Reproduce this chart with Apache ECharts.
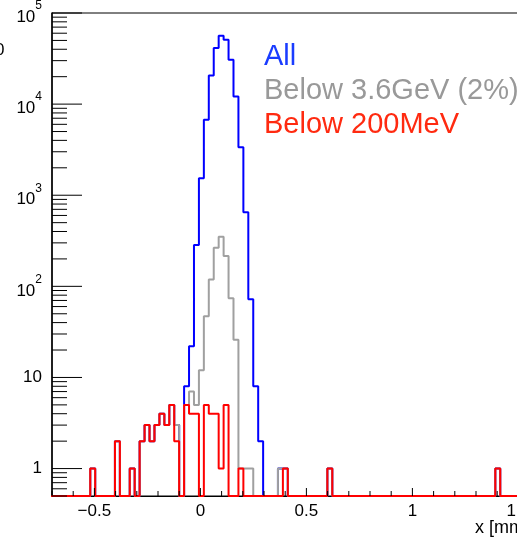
<!DOCTYPE html>
<html>
<head>
<meta charset="utf-8">
<script src="https://cdn.jsdelivr.net/npm/echarts@6/dist/echarts.min.js"></script>
<style>
  html, body { margin: 0; padding: 0; background: #ffffff; overflow: hidden; }
  #chart { width: 517px; height: 540px; }
</style>
</head>
<body>
<div id="chart"></div>
<script>
// Histogram binning (x in mm)
const binLow = -0.706;
const binWidth = 0.0233;

// Entries per bin, bin 0 starts at binLow
const countsAll = [
  0, 0, 0, 0, 0, 0, 0, 0, 1, 0,
  0, 0, 0, 2, 0, 0, 1, 0, 2, 3,
  2, 3, 4, 3, 5, 3, 0, 8, 22, 284,
  1540, 6720, 20600, 41200, 56300, 50900, 30700, 12100, 3370, 650,
  72, 8, 2, 0, 0, 0, 1, 1, 0, 0,
  0, 0, 0, 0, 0, 0, 1, 0, 0, 0,
  0, 0, 0, 0, 0, 0, 0, 0, 0, 0,
  0, 0, 0, 0, 0, 0, 0, 0, 0, 0,
  0, 0, 0, 0, 0, 0, 0, 0, 0, 0,
  1, 0, 0, 0, 0, 0, 0, 0, 0, 0
];
const countsBelow36GeV = [
  0, 0, 0, 0, 0, 0, 0, 0, 1, 0,
  0, 0, 0, 2, 0, 0, 1, 0, 2, 3,
  2, 3, 4, 3, 5, 3, 0, 5, 7, 5,
  12, 47, 119, 266, 351, 215, 74, 26, 1, 1,
  1, 0, 0, 0, 0, 0, 1, 1, 0, 0,
  0, 0, 0, 0, 0, 0, 1, 0, 0, 0,
  0, 0, 0, 0, 0, 0, 0, 0, 0, 0,
  0, 0, 0, 0, 0, 0, 0, 0, 0, 0,
  0, 0, 0, 0, 0, 0, 0, 0, 0, 0,
  1, 0, 0, 0, 0, 0, 0, 0, 0, 0
];
const countsBelow200MeV = [
  0, 0, 0, 0, 0, 0, 0, 0, 1, 0,
  0, 0, 0, 2, 0, 0, 1, 0, 2, 3,
  2, 3, 4, 3, 5, 2, 0, 5, 4, 4,
  0, 5, 4, 4, 1, 5, 0, 0, 1, 0,
  0, 0, 0, 0, 0, 0, 0, 1, 0, 0,
  0, 0, 0, 0, 0, 0, 1, 0, 0, 0,
  0, 0, 0, 0, 0, 0, 0, 0, 0, 0,
  0, 0, 0, 0, 0, 0, 0, 0, 0, 0,
  0, 0, 0, 0, 0, 0, 0, 0, 0, 0,
  1, 0, 0, 0, 0, 0, 0, 0, 0, 0
];

const seriesNames = ['All', 'Below 3.6GeV (2%)', 'Below 200MeV'];
const seriesColors = ['#0000ff', '#a0a0a0', '#ff0000'];
const legendColors = ['#1a3cff', '#999999', '#ff2a10'];

// Axis ranges and tick labels
const xMin = -0.7, xMax = 1.6;
const yMin = 0.5, yMax = 1e5;
const xLabelValues = [-0.5, 0, 0.5, 1, 1.5];
const xLabelTexts = ['\u22120.5', '0', '0.5', '1', '1.5'];
const yLabelValues = [1, 10, 100, 1000, 10000, 100000];

const FONT = '"Liberation Sans", Arial, Helvetica, sans-serif';

// Step outline: one point per bin low edge, plus the last bin's high edge.
// Empty bins sit on the frame bottom, as on a log-scale histogram.
function stepData(counts) {
  const pts = counts.map((c, i) => [binLow + i * binWidth, c > 0 ? c : yMin]);
  const last = counts[counts.length - 1];
  pts.push([binLow + counts.length * binWidth, last > 0 ? last : yMin]);
  return pts;
}

// Tick positions: x every 0.1 (major every 0.5), y at 1..9 x 10^n
const xTickValues = [];
for (let i = -7; i <= 16; i++) xTickValues.push(+(i / 10).toFixed(1));
const yTickValues = [];
for (let e = -1; e <= 4; e++) {
  for (let m = 1; m <= 9; m++) {
    const v = +(m * Math.pow(10, e)).toPrecision(6);
    if (v >= yMin && v <= yMax) yTickValues.push(v);
  }
}
yTickValues.push(yMax);

const isMultiple = (v, step) => Math.abs(v / step - Math.round(v / step)) < 1e-6;
const isPow10 = v => Math.abs(Math.log10(v) - Math.round(Math.log10(v))) < 1e-6;

const chart = echarts.init(document.getElementById('chart'), null, { renderer: 'canvas' });

const lineSeries = [countsAll, countsBelow36GeV, countsBelow200MeV].map((counts, i) => ({
  name: seriesNames[i],
  type: 'line',
  step: 'end',
  data: stepData(counts),
  symbol: 'none',
  clip: true,
  lineStyle: { color: seriesColors[i], width: 2 },
  z: 3 + i,
  silent: true
}));

const axisSeries = [
  // y ticks: long at decades, short in between, pointing into the frame
  {
    type: 'custom',
    data: yTickValues.map(v => [xMin, v]),
    encode: { x: 0, y: 1 },
    clip: false,
    z: 10,
    silent: true,
    renderItem: (params, api) => {
      const v = api.value(1);
      const p = api.coord([xMin, v]);
      const len = isPow10(v) ? 30 : 15;
      return {
        type: 'line',
        shape: { x1: p[0], y1: p[1], x2: p[0] + len, y2: p[1] },
        style: { stroke: '#000', lineWidth: 1 }
      };
    }
  },
  // x ticks
  {
    type: 'custom',
    data: xTickValues.map(v => [v, yMin]),
    encode: { x: 0, y: 1 },
    clip: false,
    z: 10,
    silent: true,
    renderItem: (params, api) => {
      const v = api.value(0);
      const p = api.coord([v, yMin]);
      const len = isMultiple(v, 0.5) ? 8 : 5;
      return {
        type: 'line',
        shape: { x1: p[0], y1: p[1], x2: p[0], y2: p[1] - len },
        style: { stroke: '#000', lineWidth: 1 }
      };
    }
  }
];

const legendTexts = seriesNames.map((name, i) => ({
  type: 'text',
  left: 264,
  top: 42 + i * 34,
  style: {
    text: name,
    fill: legendColors[i],
    font: '29px ' + FONT
  }
}));

chart.setOption({
  animation: false,
  backgroundColor: '#ffffff',
  grid: {
    left: 52,
    top: 13,
    width: (xMax - xMin) * 212,
    height: 483,
    containLabel: false,
    outerBoundsMode: 'none',
    show: true,
    borderColor: '#000',
    borderWidth: 1,
    backgroundColor: 'transparent'
  },
  xAxis: {
    type: 'value',
    min: xMin,
    max: xMax,
    interval: 0.1,
    axisLine: { show: true, onZero: false, lineStyle: { color: '#000', width: 1 } },
    axisTick: { show: false },
    splitLine: { show: false },
    axisLabel: { show: false }
  },
  yAxis: {
    type: 'log',
    logBase: 10,
    min: yMin,
    max: yMax,
    axisLine: { show: true, onZero: false, lineStyle: { color: '#000', width: 1.5 } },
    axisTick: { show: false },
    splitLine: { show: false },
    minorTick: { show: false },
    axisLabel: {
      margin: 10,
      color: '#000',
      fontSize: 17,
      fontFamily: FONT,
      formatter: v => {
        const hit = yLabelValues.find(t => Math.abs(Math.log10(t) - Math.log10(v)) < 1e-6);
        if (hit === undefined) return '';
        const e = Math.round(Math.log10(hit));
        if (e <= 1) return String(hit);
        return '{b|10}{s|' + e + '}';
      },
      rich: {
        b: { fontSize: 17, fontFamily: FONT, color: '#000', lineHeight: 26, verticalAlign: 'bottom' },
        s: { fontSize: 12, fontFamily: FONT, color: '#000', lineHeight: 12, verticalAlign: 'top' }
      }
    }
  },
  graphic: [
    ...legendTexts,
    {
      type: 'text',
      left: 475,
      top: 519,
      style: { text: 'x [mm]', fill: '#000', font: '18px ' + FONT }
    },
    {
      type: 'text',
      left: -5,
      top: 42,
      style: { text: '0', fill: '#000', font: '17px ' + FONT }
    }
  ],
  series: [...lineSeries, ...axisSeries]
});

// x tick labels, placed through the axis scale; each is left-anchored so the
// label box starts inside the visible canvas
const labelFont = '17px ' + FONT;
const measureCtx = document.createElement('canvas').getContext('2d');
measureCtx.font = labelFont;
const xLabelGraphics = xLabelValues.map((v, i) => {
  const p = chart.convertToPixel({ xAxisIndex: 0, yAxisIndex: 0 }, [v, yMin]);
  const w = measureCtx.measureText(xLabelTexts[i]).width;
  return {
    type: 'text',
    id: 'xlabel' + i,
    x: p[0] - w / 2,
    y: p[1] + 7,
    style: { text: xLabelTexts[i], fill: '#000', font: labelFont, align: 'left', verticalAlign: 'top' }
  };
});
chart.setOption({ graphic: xLabelGraphics });
</script>
</body>
</html>
